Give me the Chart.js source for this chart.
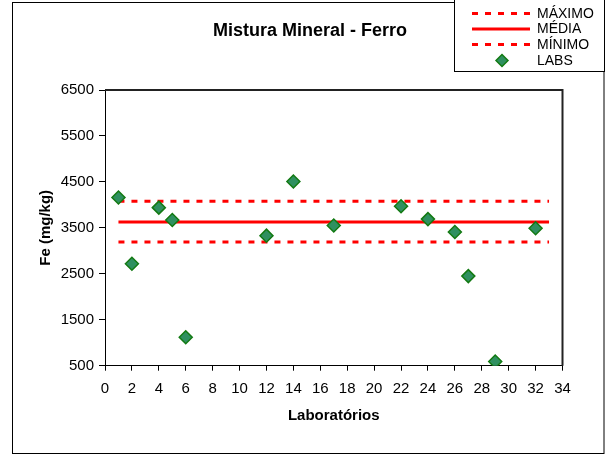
<!DOCTYPE html>
<html>
<head>
<meta charset="utf-8">
<script src="https://cdn.jsdelivr.net/npm/chart.js@4.4.2/dist/chart.umd.min.js"></script>
<style>
  html, body { margin: 0; padding: 0; background: #fff; }
  #wrap { width: 607px; height: 457px; }
</style>
</head>
<body>
<div id="wrap"><canvas id="grafico" width="607" height="457"></canvas></div>
<script>
// Dados (Fe em mg/kg por laboratório)
const laboratorios = [1, 2, 4, 5, 6, 12, 14, 17, 22, 24, 26, 27, 29, 32];
const ferro = [4160, 2720, 3940, 3670, 1120, 3330, 4510, 3550, 3970, 3690, 3410, 2450, 590, 3490];

// Linhas de referência
const extremosX = [1, 33];
const valorMaximo = 4080;
const valorMedia = 3630;
const valorMinimo = 3190;

// Eixos
const ticksX = { min: 0, max: 34, passo: 2 };
const ticksY = { min: 500, max: 6500, passo: 1000 };

const titulo = 'Mistura Mineral - Ferro';
const tituloX = 'Laboratórios';
const tituloY = 'Fe (mg/kg)';
const nomes = ['MÁXIMO', 'MÉDIA', 'MÍNIMO', 'LABS'];

const FONTE = "'Liberation Sans', Arial, sans-serif";
Chart.defaults.font.family = FONTE;
Chart.defaults.color = '#000';

const linhaRef = (nome, valor, tracejado) => ({
  label: nome,
  data: extremosX.map(x => ({ x: x, y: valor })),
  showLine: true,
  borderColor: '#ff0000',
  borderWidth: 3,
  borderDash: tracejado ? [6, 7] : [],
  pointRadius: 0,
  order: 1
});

const datasets = [
  linhaRef(nomes[0], valorMaximo, true),
  linhaRef(nomes[1], valorMedia, false),
  linhaRef(nomes[2], valorMinimo, true),
  {
    label: nomes[3],
    data: laboratorios.map((x, i) => ({ x: x, y: ferro[i] })),
    pointStyle: 'rectRot',
    pointRadius: 6.5,
    backgroundColor: '#2f9060',
    borderColor: '#137a13',
    borderWidth: 1.5,
    order: 0
  }
];

// Moldura, título e legenda desenhados por cima do gráfico
const moldura = {
  id: 'moldura',
  beforeDraw(chart) {
    const ctx = chart.ctx;
    ctx.save();
    ctx.fillStyle = '#fff';
    ctx.fillRect(0, 0, chart.width, chart.height);
    ctx.restore();
  },
  afterDraw(chart) {
    const ctx = chart.ctx;
    const a = chart.chartArea;
    ctx.save();

    // bordas superior e direita da área de plotagem
    ctx.strokeStyle = '#222';
    ctx.lineWidth = 2;
    ctx.beginPath();
    ctx.moveTo(a.left, a.top);
    ctx.lineTo(a.right, a.top);
    ctx.lineTo(a.right, a.bottom);
    ctx.stroke();

    // moldura externa
    ctx.strokeStyle = '#000';
    ctx.lineWidth = 1;
    ctx.strokeRect(12.5, 2.5, 591.5, 451);

    // título
    ctx.fillStyle = '#000';
    ctx.font = 'bold 18px ' + FONTE;
    ctx.textAlign = 'center';
    ctx.textBaseline = 'alphabetic';
    ctx.fillText(titulo, 310, 36);

    // legenda
    ctx.fillStyle = '#fff';
    ctx.fillRect(454.5, -1, 150, 72.5);
    ctx.strokeStyle = '#000';
    ctx.lineWidth = 1;
    ctx.strokeRect(454.5, -1, 150, 72.5);

    const ys = [13.5, 29, 44.5, 60.5];
    chart.data.datasets.forEach((ds, i) => {
      const y = ys[i];
      if (ds.showLine) {
        ctx.strokeStyle = ds.borderColor;
        ctx.lineWidth = ds.borderWidth;
        ctx.setLineDash(ds.borderDash);
        ctx.beginPath();
        ctx.moveTo(472, y);
        ctx.lineTo(530, y);
        ctx.stroke();
        ctx.setLineDash([]);
      } else {
        ctx.fillStyle = ds.backgroundColor;
        ctx.strokeStyle = ds.borderColor;
        ctx.lineWidth = ds.borderWidth;
        Chart.helpers.drawPoint(ctx, { pointStyle: 'rectRot', radius: 6, borderWidth: ds.borderWidth, rotation: 0 }, 502, y);
      }
      ctx.fillStyle = '#000';
      ctx.font = '14px ' + FONTE;
      ctx.textAlign = 'left';
      ctx.textBaseline = 'middle';
      ctx.fillText(ds.label, 537, y + 0.5);
    });

    ctx.restore();
  }
};

new Chart(document.getElementById('grafico'), {
  type: 'scatter',
  data: { datasets: datasets },
  plugins: [moldura],
  options: {
    responsive: false,
    animation: false,
    devicePixelRatio: 1,
    layout: { padding: { left: 12, right: 44.5, top: 90, bottom: 4 } },
    plugins: { legend: { display: false }, title: { display: false }, tooltip: { enabled: false } },
    scales: {
      x: {
        type: 'linear',
        min: ticksX.min,
        max: ticksX.max,
        afterFit(s) { s.height = 87.3; },
        ticks: { stepSize: ticksX.passo, padding: 9, font: { size: 15 }, color: '#000', callback: v => String(v) },
        grid: { drawOnChartArea: false, tickLength: 5, tickColor: '#000' },
        border: { color: '#000', width: 1 },
        title: { display: true, text: tituloX, font: { size: 15, weight: 'bold' }, padding: { top: 0, bottom: 28 }, color: '#000' }
      },
      y: {
        type: 'linear',
        min: ticksY.min,
        max: ticksY.max,
        afterFit(s) { s.width = 93; },
        ticks: { stepSize: ticksY.passo, padding: 5, font: { size: 15 }, color: '#000', callback: v => String(v) },
        grid: { drawOnChartArea: false, tickLength: 6, tickColor: '#000' },
        border: { color: '#000', width: 1 },
        title: { display: true, text: tituloY, font: { size: 15, weight: 'bold' }, padding: { top: 25, bottom: 0 }, color: '#000' }
      }
    }
  }
});
</script>
</body>
</html>
